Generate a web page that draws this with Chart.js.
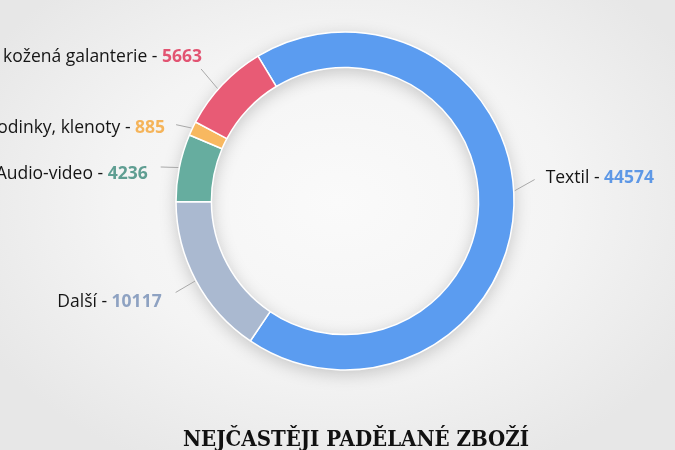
<!DOCTYPE html>
<html>
<head>
<meta charset="utf-8">
<script src="https://cdn.jsdelivr.net/npm/chart.js@4"></script>
<style>
  html, body { margin:0; padding:0; width:675px; height:450px; overflow:hidden; }
  body { background: radial-gradient(ellipse 60% 65% at 50% 45%, #fafafa 0%, #f4f4f4 55%, #e7e7e7 100%); position:relative; }
  #wrap { position:absolute; left:0; top:0; width:675px; height:450px; }
  #title { position:absolute; left:0; width:712px; top:425px; text-align:center;
    font-family: "DejaVu Serif Condensed", "DejaVu Serif", serif; font-weight:bold; font-size:22px;
    color:#111; letter-spacing:0px; margin:0; line-height:26px; }
</style>
</head>
<body>
<div id="wrap"><canvas id="c" width="675" height="450"></canvas></div>
<h1 id="title">NEJČASTĚJI PADĚLANÉ ZBOŽÍ</h1>
<script>
const categories = ["Textil", "Další", "Audio-video", "Hodinky, klenoty", "Kabelky, kožená galanterie"];
const values = [44574, 10117, 4236, 885, 5663];
const colors = ["#5b9cf0", "#aab9d0", "#66ad9f", "#f8b860", "#e85b75"];
const valueColors = ["#5e98e6", "#8ea2c2", "#5f9e92", "#f5b45a", "#e25472"];

// connector / label placement tweaks (layout only)
const labelTweaks = [
  { angle: -5, len: 20, lineDy: -10, textDy: -2,  gap: 11 },
  { angle: 0,  len: 22, lineDy: 1,   textDy: 10,  gap: 14 },
  { angle: 0,  len: 18, lineDy: 3,   textDy: 7,   gap: 13 },
  { angle: 0,  len: 17, lineDy: 4,   textDy: 3,   gap: 11 },
  { angle: -2, len: 22, lineDy: -5,  textDy: -12, gap: -1 }
];

const shadowPlugin = {
  id: 'ringShadow',
  beforeDatasetsDraw(chart) {
    const arc = chart.getDatasetMeta(0).data[0];
    if (!arc) return;
    const { x, y, outerRadius, innerRadius } = arc.getProps(['x','y','outerRadius','innerRadius'], true);
    const ctx = chart.ctx;
    ctx.save();
    ctx.shadowColor = 'rgba(0,0,0,0.22)';
    ctx.shadowBlur = 18;
    ctx.shadowOffsetY = 4;
    ctx.fillStyle = '#dddddd';
    ctx.beginPath();
    ctx.arc(x, y, outerRadius - 1, 0, Math.PI * 2);
    ctx.arc(x, y, innerRadius + 1, 0, Math.PI * 2, true);
    ctx.fill();
    ctx.restore();
  }
};

const labelPlugin = {
  id: 'sliceLabels',
  afterDatasetsDraw(chart) {
    const ctx = chart.ctx;
    const meta = chart.getDatasetMeta(0);
    meta.data.forEach((arc, i) => {
      const p = arc.getProps(['x','y','startAngle','endAngle','outerRadius'], true);
      const t = labelTweaks[i];
      const mid = (p.startAngle + p.endAngle) / 2 + t.angle * Math.PI / 180;
      const cos = Math.cos(mid), sin = Math.sin(mid);
      const r0 = p.outerRadius + 1, r1 = p.outerRadius + 1 + t.len;
      const sx = p.x + cos * r0, sy = p.y + sin * r0;
      const ex = p.x + cos * r1, ey = p.y + sin * r1 + t.lineDy;
      ctx.save();
      ctx.strokeStyle = '#a8a8a8';
      ctx.lineWidth = 1;
      ctx.beginPath();
      ctx.moveTo(sx, sy);
      ctx.lineTo(ex, ey);
      ctx.stroke();
      const right = cos >= 0;
      const nameTxt = categories[i] + ' - ';
      const valTxt = String(values[i]);
      const fName = '17.5px "Open Sans", sans-serif';
      const fVal = 'bold 17.5px "Open Sans", sans-serif';
      ctx.font = fName; const wN = ctx.measureText(nameTxt).width;
      ctx.font = fVal; const wV = ctx.measureText(valTxt).width;
      const ty = ey + t.textDy;
      const x0 = right ? ex + t.gap : ex - t.gap - wN - wV;
      ctx.textBaseline = 'middle';
      ctx.textAlign = 'left';
      ctx.font = fName; ctx.fillStyle = '#151515';
      ctx.fillText(nameTxt, x0, ty);
      ctx.font = fVal; ctx.fillStyle = valueColors[i];
      ctx.fillText(valTxt, x0 + wN, ty);
      ctx.restore();
    });
  }
};

new Chart(document.getElementById('c'), {
  type: 'doughnut',
  data: {
    labels: categories,
    datasets: [{
      data: values,
      backgroundColor: colors,
      borderColor: '#ffffff',
      borderWidth: 1.5,
      hoverOffset: 0
    }]
  },
  options: {
    responsive: false,
    animation: false,
    rotation: -31,
    radius: 169,
    cutout: 133,
    layout: { padding: { top: 32, bottom: 80, left: 20, right: 5 } },
    plugins: { legend: { display: false }, tooltip: { enabled: false }, title: { display: false } }
  },
  plugins: [shadowPlugin, labelPlugin]
});
</script>
</body>
</html>
